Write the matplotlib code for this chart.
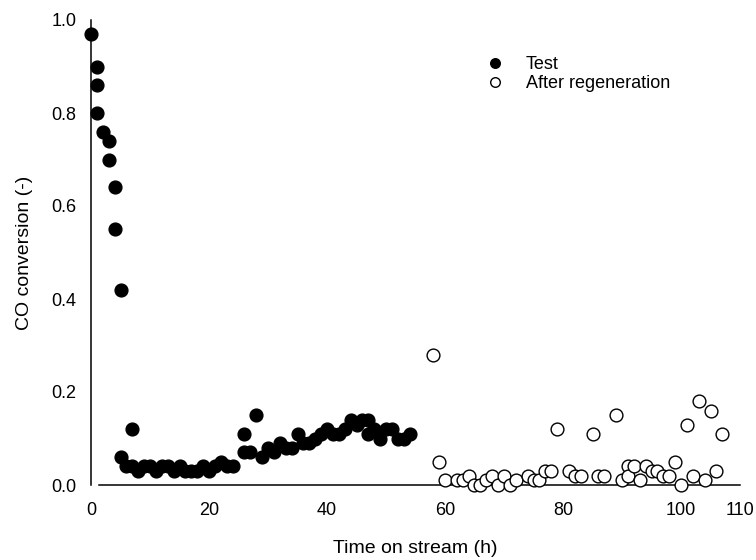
import matplotlib
matplotlib.use("Agg")
import matplotlib.pyplot as plt

plt.rcParams['font.family'] = ['Liberation Sans', 'DejaVu Sans']

# Test series (filled)
test_x = [0, 1, 1, 1, 2, 3, 3, 4, 4, 5, 5, 6, 7, 7, 8, 9, 10, 11, 12, 13, 14, 15, 16, 17, 18, 19, 20,
          21, 22, 23, 24, 26, 26, 27, 28, 29, 30, 31, 32, 33, 34, 35, 36, 37, 38, 39, 40, 41, 42, 43,
          44, 45, 46, 47, 47, 48, 49, 50, 51, 52, 53, 54]
test_y = [0.97, 0.90, 0.86, 0.80, 0.76, 0.74, 0.70, 0.64, 0.55, 0.42, 0.06, 0.04, 0.12, 0.04, 0.03,
          0.04, 0.04, 0.03, 0.04, 0.04, 0.03, 0.04, 0.03, 0.03, 0.03, 0.04, 0.03, 0.04, 0.05, 0.04,
          0.04, 0.11, 0.07, 0.07, 0.15, 0.06, 0.08, 0.07, 0.09, 0.08, 0.08, 0.11, 0.09, 0.09, 0.10,
          0.11, 0.12, 0.11, 0.11, 0.12, 0.14, 0.13, 0.14, 0.14, 0.11, 0.12, 0.10, 0.12, 0.12, 0.10,
          0.10, 0.11]

# After regeneration series (open)
regen_x = [58, 59, 60, 62, 63, 64, 65, 66, 67, 68, 69, 70, 71, 72, 74, 75, 76, 77, 78, 79, 81, 82,
           83, 85, 86, 87, 89, 90, 91, 91, 92, 93, 94, 95, 96, 97, 98, 99, 100, 101, 102, 103, 104,
           105, 106, 107]
regen_y = [0.28, 0.05, 0.01, 0.01, 0.01, 0.02, 0.00, 0.00, 0.01, 0.02, 0.00, 0.02, 0.00, 0.01, 0.02,
           0.01, 0.01, 0.03, 0.03, 0.12, 0.03, 0.02, 0.02, 0.11, 0.02, 0.02, 0.15, 0.01, 0.04, 0.02,
           0.04, 0.01, 0.04, 0.03, 0.03, 0.02, 0.02, 0.05, 0.00, 0.13, 0.02, 0.18, 0.01, 0.16, 0.03,
           0.11]

x_ticks = [0, 20, 40, 60, 80, 100, 110]
y_ticks = [0.0, 0.2, 0.4, 0.6, 0.8, 1.0]

fig = plt.figure(figsize=(7.56, 5.6), dpi=100)
ax = fig.add_axes([91/756, 1 - 485/560, (740 - 91)/756, (485 - 20)/560])

ax.plot(test_x, test_y, 'o', ms=9.2, mfc='black', mec='black', mew=1.0, ls='none',
        clip_on=False, zorder=3, label='Test')
ax.plot(regen_x, regen_y, 'o', ms=9.2, mfc='white', mec='black', mew=1.0, ls='none',
        clip_on=False, zorder=3, label='After regeneration')

ax.set_xlim(0, 110)
ax.set_ylim(0, 1.0)
ax.set_xticks(x_ticks)
ax.set_xticklabels([str(t) for t in x_ticks])
ax.set_yticks(y_ticks)
ax.set_yticklabels([f"{t:.1f}" for t in y_ticks])

for s in ['top', 'right']:
    ax.spines[s].set_visible(False)
for s in ['left', 'bottom']:
    ax.spines[s].set_linewidth(1.1)
ax.spines['bottom'].set_bounds(1.3, 110)

ax.tick_params(axis='both', which='major', direction='inout', length=5, width=1.8,
               color='white', labelsize=13)
ax.tick_params(axis='x', pad=10)
ax.tick_params(axis='y', pad=8)

ax.set_xlabel('Time on stream (h)', fontsize=14, labelpad=15)
ax.set_ylabel('CO conversion (-)', fontsize=14, labelpad=13)

leg = ax.legend(loc='upper left', frameon=False, fontsize=13,
                markerscale=0.75, handletextpad=1.1, labelspacing=0.1, borderaxespad=0.0,
                handlelength=1.2)
leg.set_bbox_to_anchor((477/756, 1 - 49/560), transform=fig.transFigure)

fig.savefig('out.png', dpi=100)
